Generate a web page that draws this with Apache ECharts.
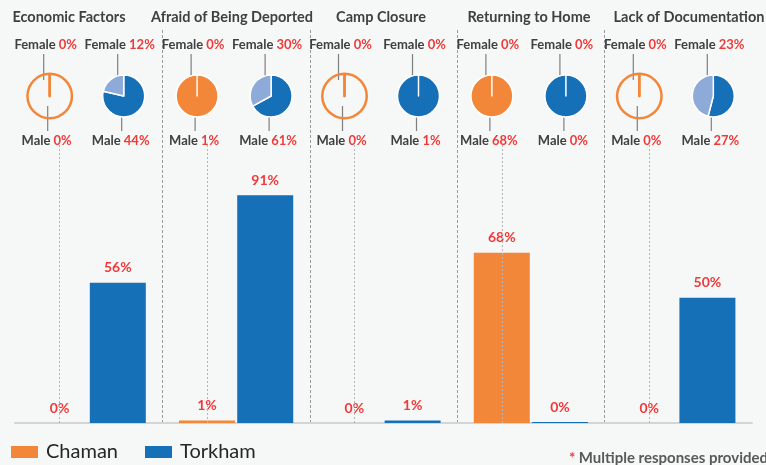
<!DOCTYPE html>
<html>
<head>
<meta charset="utf-8">
<script src="https://cdn.jsdelivr.net/npm/echarts@6/dist/echarts.min.js"></script>
<style>
  html, body { margin: 0; padding: 0; background: #f6f7f7; }
  #chart { width: 766px; height: 465px; }
</style>
</head>
<body>
<div id="chart"></div>
<script>
// reasons for return, share of respondents (%)
const categories = ['Economic Factors', 'Afraid of Being Deported', 'Camp Closure', 'Returning to Home', 'Lack of Documentation']
const chamanValues = [0, 1, 0, 68, 0]
const torkhamValues = [56, 91, 1, 0.4, 50]

// gender split per site
const chamanMale = [0, 1, 0, 68, 0]
const chamanFemale = [0, 0, 0, 0, 0]
const torkhamMale = [44, 61, 1, 0.4, 27]
const torkhamFemale = [12, 30, 0, 0, 23]

const legendNames = ['Chaman', 'Torkham']

// colours
const ORANGE = '#f2873a'
const ORANGE_LIGHT = '#f8c39b'
const BLUE = '#1570b7'
const BLUE_LIGHT = '#8eaad9'
const RED = '#f03a3a'
const DARK = '#404040'

// layout
const GRID_LEFT = 15
const GRID_RIGHT = 14
const SLOT = (766 - GRID_LEFT - GRID_RIGHT) / categories.length
const PIE_Y = 96
const PIE_R = 21
const TITLE_X = [69, 232, 381, 529, 689]

const slotCenter = (i) => GRID_LEFT + SLOT * (i + 0.5)

// 饼图（每个站点一组男女比例）
const makePie = (key, i, male, female, cx, colors) => {
  const empty = male + female === 0
  const list = []
  if (empty) {
    // 无数据时画一个空心圆环
    list.push({
      type: 'pie',
      name: key + 'Ring' + i,
      center: [cx, PIE_Y],
      radius: [PIE_R, PIE_R + 2.5],
      silent: true,
      label: { show: false },
      labelLine: { show: false },
      itemStyle: { color: colors[0] },
      data: [{ name: 'ring', value: 1 }]
    })
  }
  list.push({
    type: 'pie',
    name: key + 'Pie' + i,
    center: [cx, PIE_Y],
    radius: PIE_R,
    startAngle: 90,
    clockwise: true,
    stillShowZeroSum: false,
    avoidLabelOverlap: false,
    silent: true,
    itemStyle: {
      borderColor: empty ? colors[0] : '#ffffff',
      borderWidth: empty ? 2.5 : 1.5
    },
    label: {
      show: true,
      position: 'outside',
      formatter: (p) => `{n|${p.name}} {v|${Math.round(p.value)}%}`,
      rich: {
        n: { color: DARK, fontWeight: 'bold', fontSize: 13, fontFamily: 'Lato' },
        v: { color: RED, fontWeight: 'bold', fontSize: 13, fontFamily: 'Lato' }
      }
    },
    labelLine: { show: true, lineStyle: { color: '#7f7f7f', width: 1.2 } },
    labelLayout: (p) => {
      if (p.dataIndex === 0) {
        return {
          x: cx - 3, y: PIE_Y + 45, align: 'center', verticalAlign: 'middle',
          labelLinePoints: [[cx - 2, PIE_Y + 10], [cx - 2, PIE_Y + 22], [cx - 2, PIE_Y + 35]]
        }
      }
      return {
        x: cx - 4, y: PIE_Y - 51, align: 'center', verticalAlign: 'middle',
        labelLinePoints: [[cx - 6, PIE_Y - 16], [cx - 6, PIE_Y - 30], [cx - 6, PIE_Y - 42]]
      }
    },
    data: [
      { name: 'Male', value: male, itemStyle: { color: empty ? 'rgba(0,0,0,0)' : colors[0] } },
      { name: 'Female', value: female, itemStyle: { color: empty ? 'rgba(0,0,0,0)' : colors[1] } }
    ]
  })
  return list
}

const pieSeries = []
categories.forEach((c, i) => {
  pieSeries.push(...makePie('chaman', i, chamanMale[i], chamanFemale[i], slotCenter(i) - 39, [ORANGE, ORANGE_LIGHT]))
  pieSeries.push(...makePie('torkham', i, torkhamMale[i], torkhamFemale[i], slotCenter(i) + 35, [BLUE, BLUE_LIGHT]))
})

const barLabel = {
  show: true,
  position: 'top',
  distance: 8,
  color: RED,
  fontWeight: 'bold',
  fontSize: 14,
  fontFamily: 'Lato',
  formatter: (p) => Math.round(p.value) + '%'
}

const chart = echarts.init(document.getElementById('chart'))

chart.setOption({
  backgroundColor: '#f6f7f7',
  animation: false,
  textStyle: { fontFamily: 'Lato' },
  grid: { left: GRID_LEFT, right: GRID_RIGHT, top: 30, bottom: 42 },
  legend: {
    data: legendNames,
    left: 11,
    top: 442,
    padding: 0,
    icon: 'rect',
    itemWidth: 27,
    itemHeight: 12,
    itemGap: 27,
    textStyle: { fontSize: 20, color: '#262626', fontFamily: 'Lato', padding: [0, 0, 0, 3] }
  },
  xAxis: {
    type: 'category',
    data: categories,
    axisLabel: { show: false },
    axisTick: { show: false },
    axisLine: { lineStyle: { color: '#d4d4d4', width: 2 } },
    splitLine: {
      show: true,
      interval: 0,
      showMinLine: false,
      showMaxLine: false,
      lineStyle: { type: [3, 2], color: '#9a9a9a', width: 1 }
    }
  },
  yAxis: { type: 'value', min: 0, max: 157, show: false },
  graphic: [
    ...categories.map((c, i) => ({
      type: 'text',
      x: TITLE_X[i],
      y: 17,
      style: {
        text: c,
        fill: DARK,
        font: 'bold 14.5px Lato',
        align: 'center',
        verticalAlign: 'middle',
        textAlign: 'center',
        textVerticalAlign: 'middle'
      }
    })),
    {
      type: 'text',
      right: -2,
      top: 451,
      style: {
        text: '{r|*} {g|Multiple responses provided}',
        rich: {
          r: { fill: RED, color: RED, font: 'bold 15px Lato' },
          g: { fill: '#595959', color: '#595959', font: 'bold 15px Lato' }
        }
      }
    }
  ],
  series: [
    {
      name: 'Chaman',
      type: 'bar',
      barWidth: 56,
      barGap: '4%',
      itemStyle: { color: ORANGE },
      label: barLabel,
      data: chamanValues,
      markLine: {
        silent: true,
        symbol: 'none',
        label: { show: false },
        lineStyle: { type: [2, 2], color: '#b5b5b5', width: 1 },
        data: categories.map(c => [{ xAxis: c, yAxis: 0 }, { xAxis: c, yAxis: 112 }])
      }
    },
    {
      name: 'Torkham',
      type: 'bar',
      barWidth: 56,
      itemStyle: { color: BLUE },
      label: barLabel,
      data: torkhamValues
    },
    ...pieSeries
  ]
})
</script>
</body>
</html>
